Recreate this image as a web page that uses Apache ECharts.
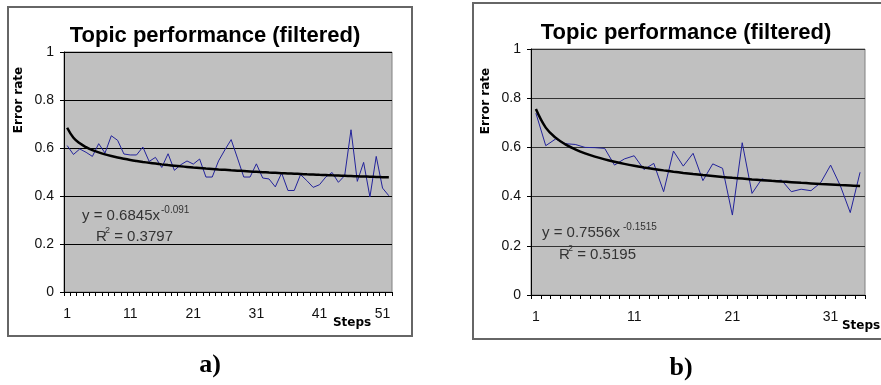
<!DOCTYPE html>
<html>
<head>
<meta charset="utf-8">
<script src="https://cdn.jsdelivr.net/npm/echarts@6/dist/echarts.min.js"></script>
<style>
  html, body { margin: 0; padding: 0; background: #fff; }
  #chart { width: 881px; height: 385px; }
</style>
</head>
<body>
<div id="chart"></div>
<script>
// panel a) - 52 steps
const stepsA = ['1','2','3','4','5','6','7','8','9','10','11','12','13','14','15','16','17','18','19','20',
  '21','22','23','24','25','26','27','28','29','30','31','32','33','34','35','36','37','38','39','40',
  '41','42','43','44','45','46','47','48','49','50','51','52'];
const errorA = [0.61, 0.573, 0.596, 0.582, 0.565, 0.618, 0.579, 0.651, 0.632, 0.575,
  0.571, 0.571, 0.604, 0.544, 0.561, 0.519, 0.576, 0.507, 0.530, 0.546,
  0.533, 0.554, 0.479, 0.479, 0.546, 0.592, 0.635, 0.558, 0.479, 0.479,
  0.534, 0.475, 0.471, 0.438, 0.496, 0.423, 0.423, 0.489, 0.464, 0.436,
  0.447, 0.479, 0.498, 0.457, 0.485, 0.676, 0.461, 0.54, 0.396, 0.565,
  0.433, 0.401];
// power trendline
const trendA = [0.6845, 0.6427, 0.6193, 0.6034, 0.5912, 0.5815, 0.5734, 0.5665, 0.5604, 0.5551,
  0.5503, 0.5460, 0.5420, 0.5383, 0.5350, 0.5318, 0.5289, 0.5262, 0.5236, 0.5212,
  0.5188, 0.5167, 0.5146, 0.5126, 0.5107, 0.5089, 0.5071, 0.5055, 0.5039, 0.5023,
  0.5008, 0.4993, 0.4979, 0.4966, 0.4953, 0.4940, 0.4928, 0.4916, 0.4904, 0.4893,
  0.4882, 0.4872, 0.4861, 0.4851, 0.4841, 0.4831, 0.4822, 0.4813, 0.4804, 0.4795,
  0.4786, 0.4778];

// panel b) - 34 steps
const stepsB = ['1','2','3','4','5','6','7','8','9','10','11','12','13','14','15','16','17','18','19','20',
  '21','22','23','24','25','26','27','28','29','30','31','32','33','34'];
const errorB = [0.739, 0.607, 0.634, 0.615, 0.612, 0.600, 0.599, 0.596, 0.528, 0.553,
  0.566, 0.510, 0.535, 0.420, 0.585, 0.524, 0.576, 0.465, 0.533, 0.515,
  0.325, 0.619, 0.413, 0.472, 0.461, 0.467, 0.420, 0.430, 0.424, 0.457,
  0.528, 0.443, 0.335, 0.499];
const trendB = [0.7556, 0.6803, 0.6398, 0.6125, 0.5922, 0.5760, 0.5627, 0.5514, 0.5417, 0.5331,
  0.5254, 0.5186, 0.5123, 0.5066, 0.5013, 0.4964, 0.4919, 0.4877, 0.4837, 0.4799,
  0.4764, 0.4731, 0.4699, 0.4669, 0.4640, 0.4612, 0.4586, 0.4561, 0.4537, 0.4513,
  0.4491, 0.4469, 0.4449, 0.4429];

const yTicks = [0, 0.2, 0.4, 0.6, 0.8, 1];

const chart = echarts.init(document.getElementById('chart'));

const FONT = '"Liberation Sans", Arial, sans-serif';

function xAx(grid, cats) {
  return {
    type: 'category', gridIndex: grid, data: cats, boundaryGap: true,
    axisLine: { lineStyle: { color: '#000', width: 1 } },
    axisTick: { show: true, interval: 0, length: 4, lineStyle: { color: '#000' } },
    axisLabel: { interval: 9, margin: 15, color: '#111', fontSize: 14, fontFamily: FONT },
    splitLine: { show: false }
  };
}
function yAx(grid, gridColor) {
  return {
    type: 'value', gridIndex: grid, min: yTicks[0], max: yTicks[yTicks.length - 1], interval: 0.2,
    axisLine: { show: true, lineStyle: { color: '#000', width: 1 } },
    axisTick: { show: true, length: 4, lineStyle: { color: '#000' } },
    axisLabel: { margin: 10, color: '#111', fontSize: 14, fontFamily: FONT },
    splitLine: { show: true, lineStyle: { color: gridColor, width: 1 } }
  };
}
function txt(x, y, text, size) {
  return {
    type: 'text', x: x, y: y,
    style: { text: text, fontSize: size, fontFamily: FONT, fill: '#333',
      textAlign: 'left', textVerticalAlign: 'middle' }
  };
}
function bold(x, y, text, rot) {
  return {
    type: 'text', x: x, y: y, rotation: rot || 0,
    style: { text: text, fontSize: 12, fontWeight: 'bold', fontFamily: '"DejaVu Sans", Verdana, sans-serif',
      fill: '#000', textAlign: 'center', textVerticalAlign: 'middle' }
  };
}

const option = {
  animation: false,
  backgroundColor: '#fff',
  title: [
    { text: 'Topic performance (filtered)', left: 210, top: 20, textAlign: 'center',
      textStyle: { fontSize: 22, fontWeight: 'bold', fontFamily: FONT, color: '#000' } },
    { text: 'Topic performance (filtered)', left: 681, top: 17, textAlign: 'center',
      textStyle: { fontSize: 22, fontWeight: 'bold', fontFamily: FONT, color: '#000' } }
  ],
  grid: [
    { left: 64, top: 52, width: 328, height: 240, show: true,
      backgroundColor: '#c0c0c0', borderColor: '#808080', borderWidth: 1 },
    { left: 531, top: 49, width: 334, height: 246, show: true,
      backgroundColor: '#c0c0c0', borderColor: '#808080', borderWidth: 1 }
  ],
  xAxis: [xAx(0, stepsA), xAx(1, stepsB)],
  yAxis: [yAx(0, '#000'), yAx(1, '#333')],
  series: [
    { name: 'a', type: 'line', xAxisIndex: 0, yAxisIndex: 0, data: errorA,
      showSymbol: false, lineStyle: { color: '#23239b', width: 1 }, z: 3 },
    { name: 'a trend', type: 'line', xAxisIndex: 0, yAxisIndex: 0, data: trendA,
      showSymbol: false, smooth: 0.4,
      lineStyle: { color: '#000', width: 2.5 }, z: 4 },
    { name: 'b', type: 'line', xAxisIndex: 1, yAxisIndex: 1, data: errorB,
      showSymbol: false, lineStyle: { color: '#23239b', width: 1 }, z: 3 },
    { name: 'b trend', type: 'line', xAxisIndex: 1, yAxisIndex: 1, data: trendB,
      showSymbol: false, smooth: 0.4,
      lineStyle: { color: '#000', width: 2.5 }, z: 4 }
  ],
  graphic: [
    // chart frames
    { type: 'rect', shape: { x: 8, y: 7, width: 404, height: 329 },
      style: { fill: 'none', stroke: '#666', lineWidth: 2 }, silent: true },
    { type: 'rect', shape: { x: 473, y: 3, width: 430, height: 336 },
      style: { fill: 'none', stroke: '#666', lineWidth: 2 }, silent: true },
    // axis names
    bold(19, 100, 'Error rate', Math.PI / 2),
    bold(352, 323, 'Steps'),
    bold(486, 101, 'Error rate', Math.PI / 2),
    bold(861, 326, 'Steps'),
    // trendline equations a
    txt(82, 216, 'y = 0.6845x', 15),
    txt(161, 210, '-0.091', 10),
    txt(96, 237, 'R', 15),
    txt(105, 231, '2', 9),
    txt(110, 237, ' = 0.3797', 15),
    // trendline equations b
    txt(542, 233, 'y = 0.7556x', 15),
    txt(623, 227, '-0.1515', 10),
    txt(559, 255, 'R', 15),
    txt(568, 249, '2', 9),
    txt(573, 255, ' = 0.5195', 15),
    // panel labels
    { type: 'text', x: 210, y: 365,
      style: { text: 'a)', fontSize: 26, fontWeight: 'bold', fontFamily: '"Liberation Serif", "Times New Roman", serif',
        fill: '#000', textAlign: 'center', textVerticalAlign: 'middle' } },
    { type: 'text', x: 681, y: 368,
      style: { text: 'b)', fontSize: 26, fontWeight: 'bold', fontFamily: '"Liberation Serif", "Times New Roman", serif',
        fill: '#000', textAlign: 'center', textVerticalAlign: 'middle' } }
  ]
};

chart.setOption(option);
</script>
</body>
</html>
